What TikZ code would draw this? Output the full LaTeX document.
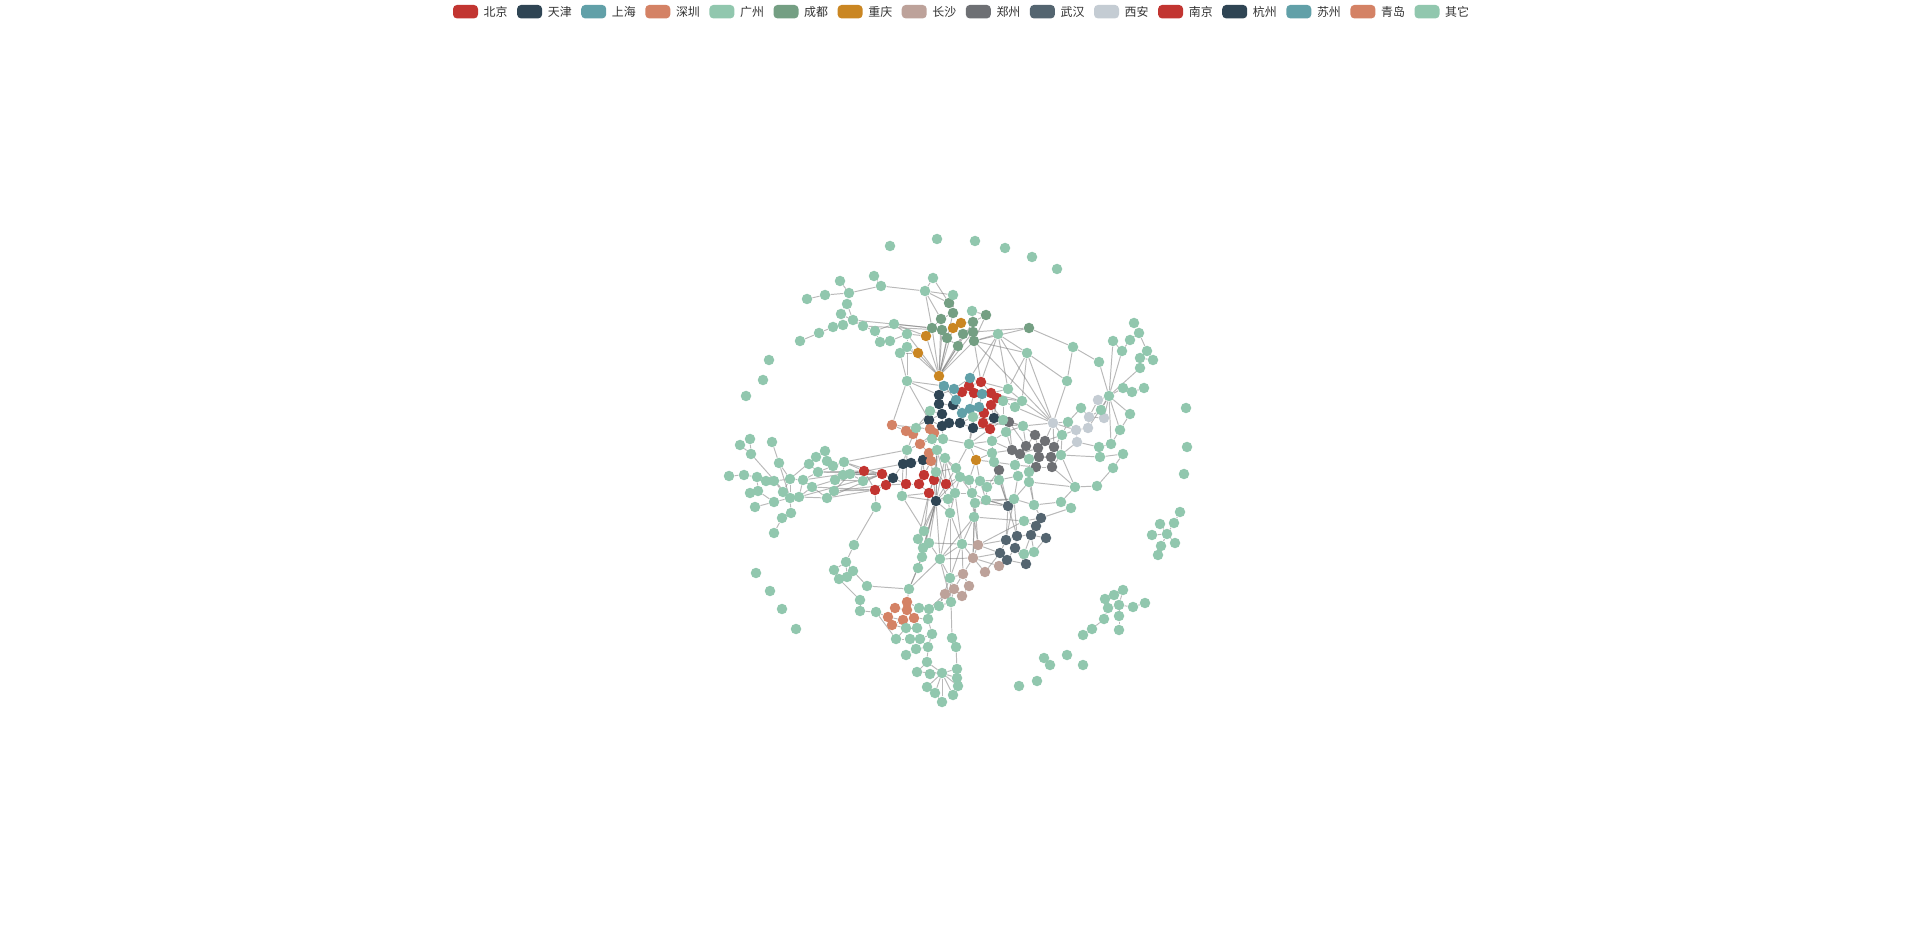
\documentclass[tikz,border=0pt]{standalone}
\usepackage{fontspec}
\newfontfamily\cjk{Noto Sans CJK SC}
\usetikzlibrary{backgrounds}

\definecolor{c1}{HTML}{C23531}
\definecolor{c2}{HTML}{2F4554}
\definecolor{c3}{HTML}{61A0A8}
\definecolor{c4}{HTML}{D48265}
\definecolor{c5}{HTML}{91C7AE}
\definecolor{c6}{HTML}{749F83}
\definecolor{c7}{HTML}{CA8622}
\definecolor{c8}{HTML}{BDA29A}
\definecolor{c9}{HTML}{6E7074}
\definecolor{c10}{HTML}{546570}
\definecolor{c11}{HTML}{C4CCD3}
\definecolor{legfont}{HTML}{333333}

\begin{document}
\begin{tikzpicture}[x=0.02cm, y=-0.02cm, font={\cjk\fontsize{6.8}{8}\selectfont},
    dot/.style={circle, fill=#1, inner sep=0pt, minimum size=0.21cm},
    link/.style={draw=gray, line width=0.55pt, opacity=0.55},
    legbox/.style={rectangle, rounded corners=0.08cm, inner sep=0pt, minimum width=0.5cm, minimum height=0.27cm},
    legtext/.style={anchor=west, inner sep=0pt, text=legfont}]
    \useasboundingbox (0,0) rectangle (1920,945);

    % legende
    \foreach \name [count=\i from 0] in {北京,天津,上海,深圳,广州,成都,重庆,长沙,郑州,武汉,西安,南京,杭州,苏州,青岛,其它} {
        \pgfmathtruncatemacro\k{mod(\i,11)+1}
        \node[legbox, fill=c\k] (key\i) at (465.5+64.1*\i, 11.7) {};
        \node[legtext] (lab\i) at ([xshift=0.1cm]key\i.east) {\name};
    }

    % villes
    \foreach \i/\x/\y in {1/981/382, 2/969/386, 3/962/392, 4/974/393, 5/991/393, 6/997/398, 7/991/405, 8/984/413, 9/983/423, 10/990/429}
        \node[dot=c1] (bj\i) at (\x,\y) {};
    \foreach \i/\x/\y in {1/864/471, 2/882/474, 3/875/490, 4/886/485, 5/906/484, 6/919/484, 7/924/475, 8/934/480, 9/946/484, 10/929/493}
        \node[dot=c1] (nj\i) at (\x,\y) {};
    \foreach \i/\x/\y in {1/939/395, 2/939/404, 3/953/405, 4/942/414, 5/929/420, 6/942/426, 7/949/423, 8/960/423, 9/973/428, 10/994/418}
        \node[dot=c2] (tj\i) at (\x,\y) {};
    \foreach \i/\x/\y in {1/903/464, 2/911/463, 3/923/460, 4/893/478, 5/936/501}
        \node[dot=c2] (hz\i) at (\x,\y) {};
    \foreach \i/\x/\y in {1/970/378, 2/944/386, 3/954/389, 4/956/400, 5/982/394, 6/970/409, 7/979/407, 8/962/413}
        \node[dot=c3] (sh\i) at (\x,\y) {};
    \foreach \i/\x/\y in {1/892/425, 2/906/431, 3/913/434, 4/920/444, 5/930/429, 6/934/433, 7/929/453, 8/931/461}
        \node[dot=c4] (sz\i) at (\x,\y) {};
    \foreach \i/\x/\y in {1/907/602, 2/895/608, 3/907/610, 4/888/617, 5/903/620, 6/914/618, 7/892/625}
        \node[dot=c4] (qd\i) at (\x,\y) {};
    \foreach \i/\x/\y in {1/949/303, 2/953/313, 3/941/319, 4/932/328, 5/942/330, 6/947/338, 7/958/346, 8/963/334, 9/973/322, 10/973/332, 11/974/341, 12/986/315, 13/1029/328}
        \node[dot=c6] (cd\i) at (\x,\y) {};
    \foreach \i/\x/\y in {1/926/336, 2/918/353, 3/953/328, 4/961/323, 5/939/376, 6/976/460}
        \node[dot=c7] (cq\i) at (\x,\y) {};
    \foreach \i/\x/\y in {1/978/545, 2/973/558, 3/963/574, 4/969/586, 5/954/589, 6/945/594, 7/962/596, 8/985/572, 9/999/566}
        \node[dot=c8] (cs\i) at (\x,\y) {};
    \foreach \i/\x/\y in {1/1009/422, 2/1035/435, 3/1045/441, 4/1054/447, 5/1026/446, 6/1012/450, 7/1020/454, 8/1038/448, 9/1039/457, 10/1051/457, 11/1036/467, 12/1052/467, 13/999/470}
        \node[dot=c9] (zz\i) at (\x,\y) {};
    \foreach \i/\x/\y in {1/1008/506, 2/1041/518, 3/1036/526, 4/1031/535, 5/1046/538, 6/1017/536, 7/1006/540, 8/1015/548, 9/1000/553, 10/1007/560, 11/1026/564}
        \node[dot=c10] (wh\i) at (\x,\y) {};
    \foreach \i/\x/\y in {1/1053/423, 2/1076/430, 3/1088/428, 4/1089/417, 5/1077/442, 6/1098/400, 7/1104/418}
        \node[dot=c11] (xa\i) at (\x,\y) {};

    % autres
    \foreach \i/\x/\y in {1/890/246, 2/937/239, 3/975/241, 4/1005/248, 5/1032/257, 6/1057/269, 7/769/360, 8/763/380, 9/746/396,
        10/756/573, 11/770/591, 12/782/609, 13/796/629, 14/1186/408, 15/1187/447, 16/1184/474, 17/1019/686, 18/1037/681,
        19/1044/658, 20/1050/665, 21/1067/655, 22/1083/665, 23/1083/635, 24/1092/629, 25/1104/619, 26/1119/630, 27/1119/616,
        28/1108/608, 29/1105/599, 30/1114/595, 31/1123/590, 32/1119/605, 33/1133/607, 34/1145/603, 35/1180/512, 36/1174/523,
        37/1160/524, 38/1152/535, 39/1167/534, 40/1175/543, 41/1161/546, 42/1158/555, 43/740/445, 44/750/439, 45/772/442,
        46/751/454, 47/779/463, 48/729/476, 49/744/475, 50/757/477, 51/766/481, 52/774/481, 53/790/479, 54/803/480,
        55/818/472, 56/809/464, 57/816/457, 58/825/451, 59/827/461, 60/833/466, 61/844/462, 62/843/475, 63/850/474,
        64/835/480, 65/812/487, 66/783/492, 67/758/491, 68/750/493, 69/774/502, 70/790/498, 71/799/497, 72/827/498,
        73/834/491, 74/755/507, 75/791/513, 76/782/518, 77/774/533, 78/863/481, 79/876/507, 80/854/545, 81/846/562,
        82/834/570, 83/839/579, 84/847/577, 85/853/571, 86/867/586, 87/860/600, 88/860/611, 89/876/612, 90/909/589,
        91/919/608, 92/929/609, 93/928/619, 94/939/606, 95/951/602, 96/906/628, 97/917/628, 98/896/639, 99/910/639,
        100/920/639, 101/932/634, 102/916/649, 103/928/647, 104/906/655, 105/927/662, 106/917/672, 107/930/674,
        108/942/673, 109/957/669, 110/957/678, 111/958/686, 112/927/687, 113/935/693, 114/953/695, 115/942/702,
        116/952/638, 117/956/647, 118/924/531, 119/929/543, 120/918/539, 121/923/548, 122/922/557, 123/940/559,
        124/918/568, 125/950/578, 126/962/544, 127/950/513, 128/974/517, 129/902/496, 130/948/499, 131/975/503,
        132/1008/389, 133/1022/401, 134/1015/407, 135/1003/401, 136/1003/420, 137/1023/426, 138/1006/432, 139/992/441,
        140/992/453, 141/994/462, 142/1015/465, 143/1029/459, 144/1029/472, 145/1018/476, 146/1029/482, 147/999/480,
        148/1061/455, 149/1062/435, 150/1068/422, 151/1081/408, 152/969/444, 153/956/468, 154/943/439, 155/937/450,
        156/945/458, 157/932/439, 158/930/411, 159/916/428, 160/907/450, 161/973/417, 162/960/477, 163/969/480,
        164/980/481, 165/987/487, 166/955/493, 167/972/493, 169/986/500, 173/1034/505, 174/1061/502, 175/1071/508,
        176/1075/487, 177/1097/486, 178/1099/447, 179/1100/457, 180/1101/410, 181/1099/362, 182/936/472, 183/1014/499,
        184/1024/521, 185/1034/552, 186/1024/554, 187/1111/444, 189/1123/454, 190/1113/468, 192/1120/430, 193/1130/414,
        197/1067/381, 198/1109/396, 199/1123/388, 200/1132/392, 201/1144/388, 202/1073/347, 203/1134/323, 204/1139/333,
        205/1130/340, 206/1113/341, 207/1122/351, 208/1147/351, 209/1140/358, 210/1153/360, 211/1140/368, 212/1027/353,
        213/998/334, 215/874/276, 216/840/281, 217/849/293, 218/825/295, 219/807/299, 220/881/286, 221/847/304,
        222/841/314, 223/853/320, 224/843/325, 225/833/327, 226/819/333, 227/800/341, 228/863/326, 229/875/331,
        230/894/324, 231/880/342, 232/890/341, 233/907/334, 234/907/347, 235/900/353, 236/925/291, 237/933/278,
        238/953/295, 239/972/311, 242/907/381}
        \node[dot=c5] (q\i) at (\x,\y) {};

    % liens
    \begin{pgfonlayer}{background}
    \fill[white] (0,0) rectangle (1920,945);
    \foreach \a/\b in {bj1/bj2, bj1/sh1, bj2/sh1, bj2/bj3, bj3/sh3, bj3/bj4, bj4/bj5, bj5/bj6, bj6/bj7, bj7/bj8, bj8/bj9,
        bj9/bj10, bj4/sh5, bj5/sh5, sh5/sh7, sh7/sh6, sh6/sh8, sh8/sh4, sh4/sh3, sh3/sh2, sh2/tj1, tj1/tj2, tj2/tj4, tj4/tj5,
        tj4/tj6, tj6/tj7, tj7/tj8, tj8/tj9, tj9/bj9, tj3/tj2, tj3/sh4, tj3/sh8, bj7/tj10, tj10/bj6, bj10/tj9, bj8/sh7,
        sh6/tj8, sh1/sh3, bj1/bj5, bj4/sh6, bj3/sh4, sh2/sh4, tj1/sh3, tj5/tj6, tj8/sh8, tj9/q161, q161/bj9, tj10/q136,
        bj6/q135, bj5/q132, bj1/q132, q132/q133, q133/q134, q134/q135, q135/q136, q136/zz1, q136/q137, q137/zz1, q137/q138,
        q138/q139, q139/q140, q140/q141, q141/zz13, q139/zz6, q138/zz6, tj8/q161, bj10/q139, bj10/q152,
        zz1/zz5, zz1/zz6, zz5/zz2, zz2/zz3, zz3/zz4, zz5/zz7, zz6/zz7, zz7/zz8, zz8/zz2, zz8/zz9, zz9/zz10, zz10/zz4,
        zz9/zz11, zz11/zz12, zz12/zz10, zz7/q142, q142/zz11, q143/zz9, q143/zz7, q144/zz11, q145/q142, q146/q144,
        q147/zz13, zz4/xa1, zz3/xa1, zz4/q148, q148/q149, q149/xa1, q149/q150, q150/xa1, q150/q151, q151/xa4, xa1/xa2,
        xa2/xa5, xa2/xa3, xa3/xa4, xa4/xa7, xa6/xa4, xa6/q198, xa7/q198, xa3/q198, xa1/q197, q197/q212, xa1/q212,
        q197/q202, q202/cd13, q202/q181, q181/q198, q198/q199, q199/q200, q200/q201, q198/q193, q198/q192, q198/q187,
        q198/q207, q198/q211, q198/q206, q193/q192, q192/q187, q187/q178, q178/q179, q179/q189, q189/q190, q190/q177,
        q178/xa5, q148/q179, q176/q177, q176/q174, q174/q175, q174/q173, q173/q183, q173/wh2, q176/q148, q176/zz12,
        q175/wh2, q184/wh3, q185/wh4, q186/wh4, q185/wh5, xa5/q148, xa2/q149, q180/xa7, q180/q198, q180/xa4, q176/q146,
        wh1/wh6, wh6/wh7, wh7/wh9, wh9/wh10, wh10/wh8, wh8/wh6, wh6/wh4, wh4/wh3, wh3/wh2, wh4/wh5, wh8/wh11, wh10/wh11,
        wh1/wh7, wh1/q183, wh1/q169, wh1/zz13, wh2/q184, wh11/q186, wh1/q147, wh1/q141,
        cs1/cs2, cs2/cs3, cs3/cs4, cs3/cs5, cs5/cs6, cs5/cs7, cs2/cs8, cs2/cs9, cs4/cs7, cs6/q95, cs5/q95, cs2/q123,
        cs2/q126, cs1/q126, cs2/q128, cs1/q131, cs3/q125, cs6/q94, cs2/wh9, cs9/wh10, cs1/q184,
        q90/qd1, qd1/qd3, qd3/qd2, qd2/qd4, qd4/qd5, qd5/qd6, qd6/qd3, qd4/qd7, qd5/qd7, qd1/q91, q91/q92, q92/q94,
        q94/q95, q92/q93, q93/qd6, q91/qd6, qd7/q96, q96/q97, q97/qd6, q96/q98, q98/q99, q99/q100, q100/q101, q101/q93,
        q99/q102, q102/q103, q103/q101, q102/q104, q103/q105, q105/q108, q105/q106, q106/q108, q107/q108, q108/q109,
        q108/q110, q108/q111, q108/q112, q108/q113, q108/q114, q108/q115, q112/q113, q113/q115, q95/q116, q116/q117,
        q117/q109, q97/q100, q92/cs6, q89/qd4, q89/q98,
        hz5/q118, hz5/q119, hz5/q120, hz5/q121, hz5/q122, hz5/q124, hz5/q123, q118/q120, q120/q121, q121/q122, q122/q124,
        q124/q90, q123/q90, q119/q123, q123/q125, q125/cs5, q118/q129, q129/nj10, q130/q127, q166/q130, q130/hz5,
        q126/q123, q125/q95, q119/q126, q127/q125, q127/q123, q128/q123,
        nj1/nj2, nj2/nj4, nj4/nj3, nj3/nj1, nj4/nj5, nj5/nj6, nj6/nj7, nj7/nj8, nj8/nj9, nj6/nj10, nj10/nj8, nj5/hz4,
        hz4/nj2, hz4/hz1, hz1/hz2, hz2/hz3, hz3/nj7, hz3/sz8, sz8/sz7, sz7/sz4, sz4/sz3, sz3/sz2, sz2/sz1, sz4/sz6,
        sz6/sz5, sz5/tj5, sz1/q242, q242/tj5, nj9/q156, nj9/q162, nj10/hz5, nj8/q182, hz1/q160, q160/sz4, q160/q159,
        q159/sz3, q157/sz6, q155/sz7, q154/q152, q152/tj9, q153/q156, q155/q156, q154/q157, q158/tj5, q158/tj4,
        q158/q159, q152/q161, q153/q162, q162/q163, q163/q164, q164/q165, q165/q169, q166/q167, q167/q164, q169/q131,
        q131/q128, q128/q126, q147/q165, q145/q147, q141/q147, q63/hz1, q61/q160, cq6/q152, cq6/q163, q182/nj9,
        q182/hz5, hz5/q162, hz5/q166, hz5/q153, hz5/q156, q167/q131, nj9/q166, q129/hz5, hz5/sz8, hz5/q155,
        sz5/sz1, sz2/tj5, sz4/q157, q157/q155, q155/q182, q182/q153, q153/q152, q154/tj6, tj6/q157, q161/zz1, tj10/zz1,
        bj10/q136, bj9/q137, q156/q162, q156/q166, q162/q166, q162/q167, q163/q167, q164/q169, q165/zz13, q164/q147,
        cq6/q164, cq6/q141, cq6/q140, q152/q139, q152/q140, q166/q127, q167/q128, q167/q169, q169/q183, q131/q183,
        q128/q184, q145/q183, q146/q183, q144/q173, q142/q141, q143/q148, q143/q144, q146/q173, zz12/q148, zz10/q148,
        zz4/q149, zz3/q149, zz2/q137, zz5/q137, zz6/q140, zz13/q140, sh6/q161, bj8/q161, bj7/q136, bj6/q133, bj5/q133,
        bj1/q213, sh1/q213, bj1/cd11, q132/q213, q132/q212, q133/q212, q133/xa1, q134/xa1, q137/xa1, q213/xa1,
        q242/tj1, sh2/q242, nj9/q155, nj8/q155, nj7/sz8, nj6/hz3, nj10/q182, nj5/q160, hz1/q129, q78/nj2, q63/nj2,
        q55/nj2, q73/nj4, q72/nj3, q61/hz4, q62/nj2, hz5/q127, nj10/q118, nj10/q120, q182/q130, q166/q126, q127/q126,
        q126/q125, q126/cs3, q125/q94, q123/q95, q122/q90, cs1/wh7, cs1/wh9, cs8/wh9, cs2/q131, cs1/q128, q169/wh1,
        q131/wh1, q183/wh6, q183/wh7,
        q44/q46, q43/q46, q46/q70, q45/q47, q47/q53, q47/q70, q48/q49, q49/q50, q50/q51, q51/q52, q52/q53, q53/q54,
        q54/q55, q52/q66, q50/q67, q67/q68, q67/q69, q69/q70, q66/q70, q70/q71, q71/q65, q65/q64, q70/q75, q75/q76,
        q76/q77, q71/q72, q72/q73, q73/q63, q55/q56, q56/q57, q57/q58, q58/q59, q59/q60, q60/q61, q61/q62, q62/q63,
        q63/q78, q64/q78, q53/q66, q54/q72, q55/q60, q53/q57, q71/q54, q70/q53, q78/nj1, q63/nj1, q62/nj1, q61/nj1,
        q72/nj2, q73/nj3, q55/nj1, q54/nj1, q71/nj2, q65/nj3, q74/q69, q79/nj3, q79/q80, q80/q81, q81/q82, q81/q84,
        q81/q85, q82/q83, q83/q84, q84/q85, q85/q86, q83/q87, q87/q88, q88/q89, q86/q90,
        cq5/cq2, cq5/cq1, cq5/cd4, cq5/cd5, cq5/cd6, cq5/cd7, cq5/cd8, cq5/cd10, cq5/cd11, cq5/cd9, cq5/cd3, cq5/cd2,
        cq5/q234, cq5/q233, cq5/cq3, cq5/tj1, cq5/sh2, cd1/cd2, cd2/cd3, cd3/cd4, cd4/cd5, cd5/cd6, cd6/cd7, cd7/cd8,
        cd8/cd10, cd10/cd11, cd10/cd9, cd9/cd12, cd8/cq3, cq3/cq4, cq4/cd9, cd12/cd11, cd11/cd13, cd10/cd13, cd11/q213,
        cd1/q238, cd2/q238, q238/q236, q236/q237, q236/cd4, q236/cd3, cq1/cd4, cq1/q233, cq2/q235, cq2/q234, q239/cd9,
        q239/cd12, cd11/xa1, q213/q212, cd11/q212,
        q216/q217, q217/q221, q221/q222, q221/q223, q222/q224, q218/q219, q218/q217, q217/q220, q215/q220, q220/q236,
        q223/q224, q224/q225, q225/q226, q226/q227, q223/q228, q228/q229, q229/q230, q230/q233, q233/q234, q234/q235,
        q231/q232, q232/q233, q230/cd4, q223/cd4, q228/cd5, q235/q242, q234/q242, q222/q228, q229/q231, q230/cq1,
        q236/cd1, q237/cd1,
        q203/q204, q204/q205, q205/q207, q206/q207, q204/q208, q208/q209, q208/q210, q209/q211, q209/q210,
        q23/q24, q24/q25, q25/q28, q28/q29, q28/q32, q32/q30, q32/q31, q30/q31, q32/q27, q27/q26, q32/q33, q33/q34, q29/q30,
        q35/q36, q36/q39, q37/q39, q38/q39, q39/q40, q39/q41, q41/q42}
        \draw[link] (\a) -- (\b);
    \end{pgfonlayer}
\end{tikzpicture}
\end{document}
